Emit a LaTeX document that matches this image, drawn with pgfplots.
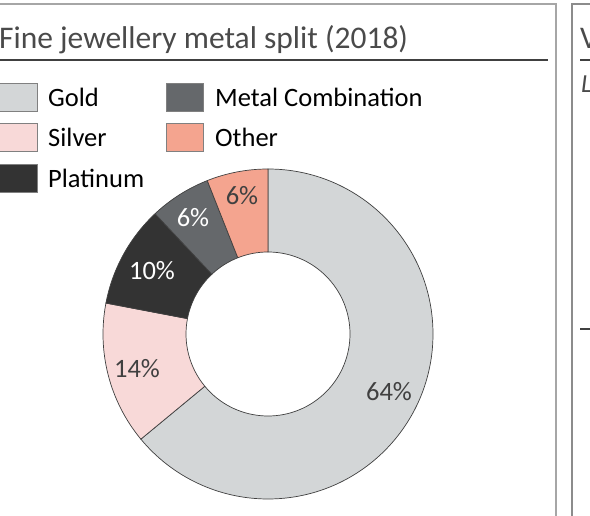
\documentclass[border=0pt]{standalone}
\usepackage{pgfplots}
\usepackage{pgfplotstable}
\pgfplotsset{compat=1.18}
\usepackage{fontspec}
\setmainfont{Carlito}

\definecolor{cGold}{HTML}{D3D6D7}
\definecolor{cSilver}{HTML}{F8D9D8}
\definecolor{cPlat}{HTML}{333333}
\definecolor{cMetal}{HTML}{65686B}
\definecolor{cOther}{HTML}{F4A48F}
\definecolor{edgecol}{HTML}{404040}
\definecolor{titlecol}{HTML}{4A4A4A}
\definecolor{framecol}{HTML}{A6A6A6}
\definecolor{framecolb}{HTML}{8C8C8C}

% value, label position (x,y), fill colour, label text colour
\pgfplotstableread{
name   value lx  ly  col    tc
Gold   64    389 124 cGold  edgecol
Silver 14    137 147 cSilver edgecol
Plat   10    152 245 cPlat  white
Metal  6     193 298 cMetal white
Other  6     242 320 cOther edgecol
}\metaldata

\begin{document}
\begin{tikzpicture}
\path[use as bounding box] (0,0) rectangle (590pt,516pt);
\begin{axis}[
  x=1pt, y=1pt,
  xmin=0, xmax=590, ymin=0, ymax=516,
  enlargelimits=false,
  hide axis, clip=false,
  anchor=south west, at={(0,0)},
]
% frames
\draw[framecol, line width=1.6pt] (axis cs:-5,512) -- (axis cs:556,512) -- (axis cs:556,-5);
\draw[framecolb, line width=1.2pt] (axis cs:572,-5) -- (axis cs:572,512) -- (axis cs:595,512);
% title
\node[anchor=base west, inner sep=0pt, text=titlecol, font=\fontsize{31.5}{36}\selectfont] at (axis cs:-1,467) {Fine jewellery metal split (2018)};
\draw[edgecol, line width=1.3pt] (axis cs:-5,456) -- (axis cs:548,456);
% right panel fragments
\node[anchor=base west, inner sep=0pt, text=titlecol, font=\fontsize{31.5}{36}\selectfont] at (axis cs:580,467) {V};
\draw[edgecol, line width=1.3pt] (axis cs:580,456) -- (axis cs:595,456);
\node[anchor=base west, inner sep=0pt, text=titlecol, font=\fontsize{26}{30}\selectfont\itshape] at (axis cs:581,423) {L};
\draw[edgecol, line width=1.3pt] (axis cs:580,187) -- (axis cs:595,187);

% legend
\begin{scope}[font=\fontsize{26.5}{30}\selectfont]
\filldraw[fill=cGold, draw=gray, line width=0.8pt] (axis cs:-3,405) rectangle (axis cs:37,433);
\node[anchor=west, inner sep=0pt] at (axis cs:48,419) {Gold};
\filldraw[fill=cSilver, draw=gray, line width=0.8pt] (axis cs:-3,365) rectangle (axis cs:37,393);
\node[anchor=west, inner sep=0pt] at (axis cs:48,379) {Silver};
\filldraw[fill=cPlat, draw=gray, line width=0.8pt] (axis cs:-3,324) rectangle (axis cs:37,352);
\node[anchor=west, inner sep=0pt] at (axis cs:48,338) {Platinum};
\filldraw[fill=cMetal, draw=gray, line width=0.8pt] (axis cs:166,405) rectangle (axis cs:203,433);
\node[anchor=west, inner sep=0pt] at (axis cs:215,419) {Metal Combination};
\filldraw[fill=cOther, draw=gray, line width=0.8pt] (axis cs:166,365) rectangle (axis cs:203,393);
\node[anchor=west, inner sep=0pt] at (axis cs:215,379) {Other};
\end{scope}

% donut slices
\def\cum{0}
\pgfplotsforeachungrouped \i in {0,...,4}{%
  \pgfplotstablegetelem{\i}{value}\of\metaldata \let\v\pgfplotsretval
  \pgfplotstablegetelem{\i}{col}\of\metaldata \let\c\pgfplotsretval
  \pgfplotstablegetelem{\i}{tc}\of\metaldata \let\tc\pgfplotsretval
  \pgfplotstablegetelem{\i}{lx}\of\metaldata \let\lx\pgfplotsretval
  \pgfplotstablegetelem{\i}{ly}\of\metaldata \let\ly\pgfplotsretval
  \pgfmathsetmacro\a{90-3.6*\cum}%
  \pgfmathsetmacro\b{90-3.6*(\cum+\v)}%
  \pgfmathsetmacro\bb{\b+180}%
  \edef\temp{\noexpand\filldraw[fill=\c, draw=edgecol, line width=0.7pt]
    (axis cs:268,182) ++(\a:165pt) arc[start angle=\a, end angle=\b, radius=165pt]
    -- ++(\bb:83pt) arc[start angle=\b, end angle=\a, radius=82pt] -- cycle;
    \noexpand\node[text=\tc, font=\noexpand\fontsize{26.5}{30}\noexpand\selectfont] at (axis cs:\lx,\ly) {\v\noexpand\%};}%
  \temp
  \pgfmathsetmacro\cum{\cum+\v}%
}
\end{axis}
\end{tikzpicture}
\end{document}
